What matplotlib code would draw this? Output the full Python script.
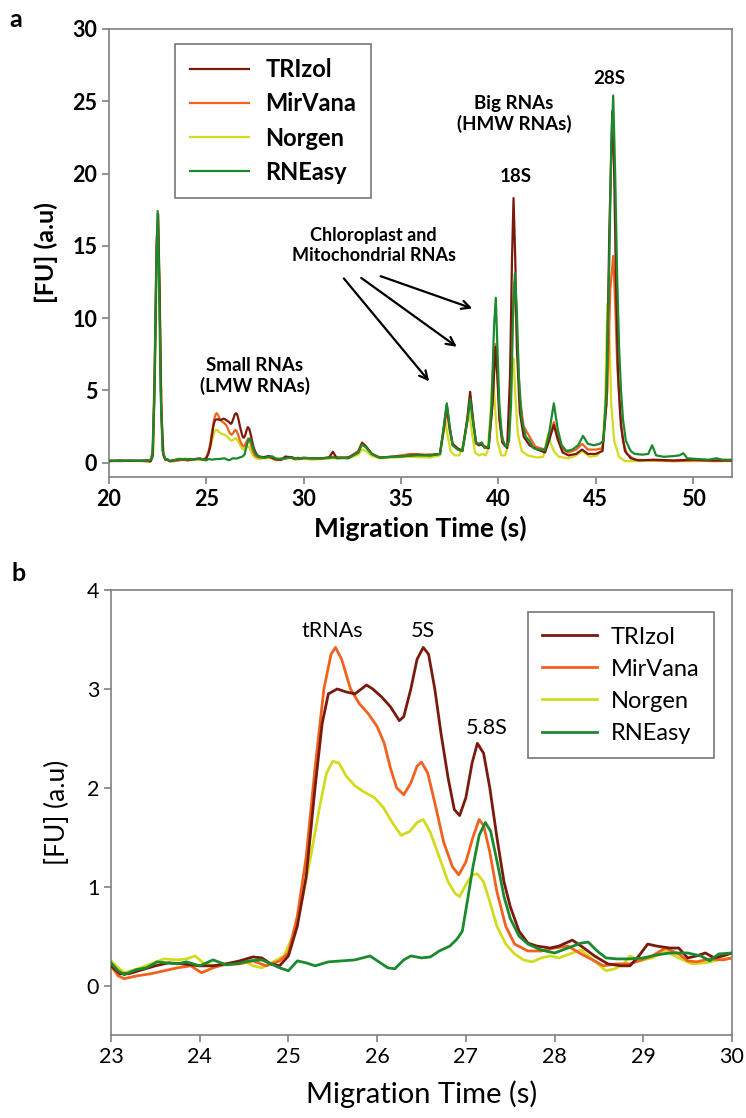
import numpy as np
import matplotlib
matplotlib.use("Agg")
import matplotlib.pyplot as plt

plt.rcParams['font.family'] = ['Lato', 'DejaVu Sans']

names = ["TRIzol", "MirVana", "Norgen", "RNEasy"]
colors = ["#7a1a0c", "#f0621e", "#d2dc1e", "#1b8a2e"]

# ---- panel b: zoom on the small RNA region (23-30 s) ----
b_trizol_t = [23.0, 23.1, 23.2, 23.35, 23.5, 23.65, 23.8, 24.0, 24.15, 24.3, 24.45, 24.6, 24.7, 24.8, 24.9,
              25.0, 25.1, 25.2, 25.3, 25.38, 25.45, 25.55, 25.65, 25.75, 25.88, 25.95, 26.05, 26.15, 26.25,
              26.3, 26.38, 26.45, 26.52, 26.58, 26.65, 26.72, 26.8, 26.87, 26.93, 27.0, 27.07, 27.13, 27.2,
              27.27, 27.35, 27.43, 27.5, 27.6, 27.7, 27.8, 27.95, 28.05, 28.2, 28.3, 28.45, 28.6, 28.75,
              28.85, 28.95, 29.05, 29.15, 29.3, 29.4, 29.5, 29.6, 29.7, 29.8, 29.9, 30.0]
b_trizol_fu = [0.20, 0.12, 0.12, 0.16, 0.20, 0.23, 0.22, 0.20, 0.20, 0.22, 0.25, 0.29, 0.28, 0.22, 0.20,
               0.30, 0.60, 1.10, 2.00, 2.65, 2.95, 3.00, 2.97, 2.95, 3.04, 3.00, 2.92, 2.82, 2.68,
               2.72, 3.00, 3.30, 3.42, 3.35, 3.00, 2.55, 2.10, 1.78, 1.72, 1.90, 2.25, 2.45, 2.35,
               2.00, 1.50, 1.05, 0.80, 0.55, 0.43, 0.40, 0.38, 0.40, 0.46, 0.40, 0.30, 0.22, 0.20,
               0.20, 0.30, 0.42, 0.40, 0.38, 0.38, 0.28, 0.30, 0.33, 0.28, 0.30, 0.33]

b_mirvana_t = [23.0, 23.08, 23.15, 23.3, 23.45, 23.6, 23.75, 23.9, 24.02, 24.15, 24.3, 24.45, 24.6, 24.75,
               24.9, 25.0, 25.1, 25.2, 25.3, 25.4, 25.48, 25.53, 25.6, 25.7, 25.8, 25.9, 26.0, 26.08,
               26.15, 26.22, 26.3, 26.38, 26.45, 26.5, 26.57, 26.65, 26.75, 26.85, 26.92, 27.0, 27.08,
               27.15, 27.2, 27.27, 27.35, 27.45, 27.55, 27.7, 27.85, 28.0, 28.15, 28.3, 28.45, 28.55,
               28.7, 28.85, 28.95, 29.1, 29.25, 29.4, 29.5, 29.6, 29.75, 29.9, 30.0]
b_mirvana_fu = [0.20, 0.10, 0.07, 0.10, 0.12, 0.15, 0.18, 0.20, 0.13, 0.18, 0.22, 0.22, 0.25, 0.20,
                0.25, 0.33, 0.70, 1.30, 2.20, 3.00, 3.35, 3.42, 3.30, 3.00, 2.85, 2.75, 2.62, 2.45,
                2.20, 2.00, 1.93, 2.05, 2.22, 2.26, 2.15, 1.85, 1.45, 1.20, 1.12, 1.25, 1.50,
                1.68, 1.62, 1.35, 0.95, 0.60, 0.42, 0.35, 0.35, 0.38, 0.40, 0.32, 0.25, 0.20,
                0.22, 0.22, 0.25, 0.30, 0.38, 0.32, 0.25, 0.24, 0.27, 0.26, 0.28]

b_norgen_t = [23.0, 23.08, 23.15, 23.3, 23.45, 23.6, 23.75, 23.85, 23.95, 24.05, 24.2, 24.35, 24.5, 24.6,
              24.7, 24.85, 24.95, 25.05, 25.15, 25.25, 25.35, 25.43, 25.5, 25.57, 25.65, 25.75, 25.85,
              25.97, 26.07, 26.17, 26.27, 26.37, 26.45, 26.52, 26.6, 26.7, 26.8, 26.88, 26.93, 27.0,
              27.07, 27.13, 27.2, 27.27, 27.35, 27.45, 27.55, 27.65, 27.75, 27.85, 27.95, 28.05, 28.2,
              28.3, 28.45, 28.58, 28.68, 28.78, 28.85, 28.95, 29.1, 29.25, 29.4, 29.55, 29.7, 29.85, 30.0]
b_norgen_fu = [0.25, 0.18, 0.13, 0.17, 0.22, 0.27, 0.26, 0.27, 0.30, 0.22, 0.20, 0.22, 0.25, 0.20,
               0.18, 0.25, 0.30, 0.50, 0.85, 1.30, 1.80, 2.15, 2.27, 2.25, 2.12, 2.02, 1.96,
               1.90, 1.80, 1.65, 1.52, 1.56, 1.65, 1.68, 1.55, 1.30, 1.05, 0.93, 0.90, 1.02,
               1.12, 1.13, 1.05, 0.85, 0.60, 0.42, 0.32, 0.26, 0.24, 0.28, 0.30, 0.28, 0.33,
               0.36, 0.25, 0.15, 0.17, 0.22, 0.30, 0.25, 0.28, 0.35, 0.28, 0.22, 0.23, 0.26, 0.28]

b_rneasy_t = [23.0, 23.08, 23.15, 23.28, 23.4, 23.52, 23.62, 23.75, 23.85, 24.0, 24.15, 24.3, 24.42, 24.55,
              24.7, 24.8, 24.9, 25.0, 25.1, 25.2, 25.3, 25.45, 25.6, 25.75, 25.92, 26.02, 26.12, 26.2,
              26.3, 26.38, 26.5, 26.6, 26.7, 26.82, 26.9, 26.96, 27.02, 27.08, 27.15, 27.22, 27.28,
              27.36, 27.43, 27.5, 27.6, 27.7, 27.85, 28.0, 28.15, 28.3, 28.38, 28.48, 28.58, 28.7,
              28.85, 29.0, 29.15, 29.3, 29.5, 29.65, 29.75, 29.85, 30.0]
b_rneasy_fu = [0.23, 0.15, 0.11, 0.16, 0.18, 0.24, 0.23, 0.22, 0.24, 0.20, 0.26, 0.21, 0.22, 0.25,
               0.26, 0.22, 0.18, 0.15, 0.25, 0.23, 0.20, 0.24, 0.25, 0.26, 0.30, 0.24, 0.18, 0.17,
               0.26, 0.30, 0.28, 0.29, 0.35, 0.40, 0.47, 0.55, 0.87, 1.20, 1.52, 1.65, 1.56,
               1.22, 0.90, 0.68, 0.50, 0.42, 0.36, 0.33, 0.38, 0.43, 0.44, 0.35, 0.28, 0.27,
               0.27, 0.28, 0.31, 0.33, 0.33, 0.30, 0.25, 0.32, 0.33]

# ---- panel a: full run, before 23 s and after 30 s (23-30 s is the same data as panel b) ----
a_trizol_pre_t = [20.0, 20.5, 21.0, 21.5, 22.0, 22.15, 22.25, 22.35, 22.45, 22.52, 22.6, 22.68, 22.78, 22.9]
a_trizol_pre_fu = [0.10, 0.15, 0.12, 0.13, 0.15, 0.10, 0.5, 6.0, 15.0, 17.2, 12.0, 4.0, 0.6, 0.2]
a_mirvana_pre_t = [20.0, 20.6, 21.2, 21.8, 22.1, 22.25, 22.35, 22.45, 22.52, 22.6, 22.7, 22.8, 22.9]
a_mirvana_pre_fu = [0.12, 0.10, 0.14, 0.10, 0.05, 0.8, 7.0, 15.5, 17.0, 11.0, 3.0, 0.5, 0.2]
a_norgen_pre_t = [20.0, 20.7, 21.3, 21.9, 22.15, 22.27, 22.37, 22.46, 22.52, 22.6, 22.7, 22.8, 22.9]
a_norgen_pre_fu = [0.10, 0.13, 0.10, 0.12, 0.10, 0.7, 6.5, 15.0, 16.8, 11.5, 3.5, 0.5, 0.2]
a_rneasy_pre_t = [20.0, 20.5, 21.0, 21.6, 22.1, 22.22, 22.32, 22.42, 22.5, 22.57, 22.65, 22.75, 22.9]
a_rneasy_pre_fu = [0.15, 0.12, 0.15, 0.13, 0.15, 0.3, 4.0, 13.0, 17.4, 13.0, 5.0, 0.8, 0.25]

a_trizol_post_t = [30.4, 30.9, 31.3, 31.5, 31.7, 32.3, 32.8, 33.0, 33.2, 33.5, 33.9, 34.5, 35.2, 35.8, 36.5,
                   37.0, 37.2, 37.35, 37.5, 37.65, 37.9, 38.15, 38.4, 38.55, 38.7, 38.85, 39.0, 39.1, 39.25,
                   39.5, 39.7, 39.85, 39.95, 40.05, 40.2, 40.45, 40.6, 40.7, 40.78, 40.87, 40.95, 41.1, 41.3,
                   41.6, 42.0, 42.4, 42.6, 42.85, 43.05, 43.3, 43.6, 44.0, 44.3, 44.6, 45.0, 45.35, 45.55,
                   45.7, 45.85, 45.95, 46.05, 46.15, 46.3, 46.5, 46.8, 47.2, 48.0, 49.0, 50.0, 51.0, 52.0]
a_trizol_post_fu = [0.30, 0.30, 0.35, 0.75, 0.30, 0.35, 0.70, 1.35, 1.10, 0.60, 0.35, 0.40, 0.45, 0.55, 0.50,
                    0.60, 2.40, 4.00, 2.40, 1.30, 1.00, 0.80, 3.00, 4.90, 3.00, 1.40, 1.20, 1.30, 1.10,
                    1.00, 4.00, 8.00, 6.00, 3.00, 1.40, 1.00, 6.00, 14.0, 18.3, 14.0, 8.00, 3.50, 1.80,
                    1.20, 0.90, 0.70, 1.50, 2.60, 1.60, 0.70, 0.50, 0.60, 0.90, 0.60, 0.60, 0.80, 4.00,
                    16.0, 24.3, 20.0, 12.0, 6.00, 2.50, 0.80, 0.30, 0.15, 0.20, 0.15, 0.20, 0.15, 0.15]

a_mirvana_post_t = [30.4, 31.0, 31.5, 32.3, 32.8, 33.0, 33.2, 33.5, 33.9, 34.5, 35.0, 35.5, 36.2, 37.0,
                    37.2, 37.35, 37.5, 37.65, 37.9, 38.15, 38.4, 38.55, 38.7, 38.85, 39.0, 39.15, 39.5,
                    39.7, 39.85, 39.95, 40.1, 40.3, 40.5, 40.65, 40.75, 40.83, 40.95, 41.1, 41.3, 41.6,
                    41.9, 42.4, 42.6, 42.85, 43.05, 43.3, 43.6, 44.0, 44.3, 44.6, 45.0, 45.35, 45.6,
                    45.75, 45.9, 46.0, 46.1, 46.25, 46.4, 46.6, 47.0, 48.0, 49.0, 50.0, 51.0, 52.0]
a_mirvana_post_fu = [0.30, 0.30, 0.40, 0.35, 0.80, 1.40, 1.15, 0.60, 0.35, 0.40, 0.50, 0.60, 0.55, 0.60,
                     2.20, 3.70, 2.20, 1.20, 0.95, 0.80, 2.80, 4.60, 2.80, 1.30, 1.20, 1.25, 1.00,
                     4.20, 8.20, 6.00, 2.50, 1.20, 1.20, 5.00, 11.0, 12.5, 9.00, 4.50, 2.50, 1.80,
                     1.10, 0.90, 1.70, 2.80, 1.80, 0.90, 0.70, 0.90, 1.30, 0.90, 0.90, 1.00, 5.00,
                     12.0, 14.3, 11.0, 7.00, 3.50, 1.50, 0.60, 0.20, 0.15, 0.10, 0.15, 0.10, 0.12]

a_norgen_post_t = [30.4, 31.0, 31.5, 32.3, 32.8, 33.0, 33.2, 33.5, 33.9, 34.5, 35.5, 36.5, 37.0, 37.15,
                   37.25, 37.4, 37.55, 37.75, 38.0, 38.25, 38.4, 38.5, 38.65, 38.8, 39.0, 39.2, 39.35,
                   39.45, 39.58, 39.7, 39.8, 39.95, 40.15, 40.35, 40.5, 40.6, 40.7, 40.78, 40.88, 41.0,
                   41.2, 41.5, 42.0, 42.3, 42.45, 42.55, 42.7, 42.85, 43.1, 43.6, 44.0, 44.3, 44.7,
                   45.1, 45.35, 45.48, 45.6, 45.7, 45.8, 45.95, 46.2, 46.5, 47.0, 48.0, 49.0, 50.0,
                   51.0, 52.0]
a_norgen_post_fu = [0.20, 0.25, 0.30, 0.30, 0.55, 0.90, 0.80, 0.45, 0.30, 0.35, 0.40, 0.35, 0.50, 2.00,
                    3.10, 1.80, 0.80, 0.50, 0.50, 1.50, 3.00, 3.60, 2.00, 0.70, 0.50, 0.60, 0.50,
                    0.80, 3.00, 6.30, 4.50, 1.50, 0.50, 0.50, 1.20, 3.50, 6.50, 7.20, 4.50, 2.00,
                    0.80, 0.50, 0.35, 0.40, 1.30, 2.00, 1.30, 0.80, 0.40, 0.30, 0.50, 0.80, 0.40,
                    0.50, 1.00, 4.00, 11.0, 9.00, 4.00, 1.50, 0.40, 0.10, 0.10, 0.12, 0.10, 0.10,
                    0.12, 0.10]

a_rneasy_post_t = [30.4, 31.0, 31.5, 32.3, 32.8, 33.0, 33.2, 33.5, 33.9, 34.5, 35.2, 35.8, 36.5, 37.0,
                   37.2, 37.35, 37.5, 37.65, 37.9, 38.15, 38.4, 38.55, 38.7, 38.85, 39.0, 39.15, 39.3,
                   39.5, 39.65, 39.78, 39.87, 39.95, 40.05, 40.2, 40.4, 40.55, 40.65, 40.75, 40.85,
                   40.95, 41.05, 41.2, 41.4, 41.6, 41.8, 42.1, 42.4, 42.6, 42.85, 43.05, 43.25, 43.5,
                   43.8, 44.1, 44.35, 44.6, 44.9, 45.2, 45.4, 45.55, 45.7, 45.8, 45.9, 46.0, 46.1,
                   46.2, 46.3, 46.4, 46.55, 46.8, 47.0, 47.4, 47.7, 47.9, 48.1, 48.5, 49.0, 49.3,
                   49.5, 49.7, 50.2, 50.8, 51.2, 51.5, 52.0]
a_rneasy_post_fu = [0.30, 0.30, 0.35, 0.30, 0.70, 1.25, 1.05, 0.60, 0.35, 0.40, 0.45, 0.50, 0.50, 0.60,
                    2.50, 4.10, 2.50, 1.20, 0.90, 0.80, 2.80, 4.40, 2.80, 1.40, 1.30, 1.40, 1.00,
                    1.10, 4.00, 9.50, 11.4, 8.00, 4.00, 1.60, 1.10, 1.50, 4.00, 10.0, 13.1,
                    10.5, 6.00, 3.00, 1.80, 1.50, 1.00, 0.90, 0.90, 2.00, 4.10, 2.30, 1.20, 0.80,
                    0.90, 1.20, 1.85, 1.30, 1.20, 1.30, 1.50, 5.00, 14.0, 22.0, 25.4, 20.0, 13.0,
                    8.00, 5.00, 3.00, 1.50, 0.80, 0.60, 0.55, 0.60, 1.20, 0.50, 0.40, 0.45, 0.50,
                    0.65, 0.30, 0.25, 0.20, 0.30, 0.20, 0.20]

b_series = [(b_trizol_t, b_trizol_fu), (b_mirvana_t, b_mirvana_fu),
            (b_norgen_t, b_norgen_fu), (b_rneasy_t, b_rneasy_fu)]
a_pre = [(a_trizol_pre_t, a_trizol_pre_fu), (a_mirvana_pre_t, a_mirvana_pre_fu),
         (a_norgen_pre_t, a_norgen_pre_fu), (a_rneasy_pre_t, a_rneasy_pre_fu)]
a_post = [(a_trizol_post_t, a_trizol_post_fu), (a_mirvana_post_t, a_mirvana_post_fu),
          (a_norgen_post_t, a_norgen_post_fu), (a_rneasy_post_t, a_rneasy_post_fu)]

# draw order: Norgen, MirVana, TRIzol, RNEasy (legend keeps names order)
zorders = [3, 2, 1, 4]

fig = plt.figure(figsize=(7.46, 11.18), dpi=100)
axa = fig.add_axes([0.1461, 0.5733, 0.8351, 0.4008])
axb = fig.add_axes([0.1488, 0.0742, 0.8324, 0.3980])

for i in range(4):
    t = np.concatenate([a_pre[i][0], b_series[i][0], a_post[i][0]])
    fu = np.concatenate([a_pre[i][1], b_series[i][1], a_post[i][1]])
    axa.plot(t, fu, color=colors[i], lw=1.6, label=names[i], zorder=zorders[i])
    axb.plot(b_series[i][0], b_series[i][1], color=colors[i], lw=2.0, label=names[i], zorder=zorders[i])

for ax in (axa, axb):
    for s in ax.spines.values():
        s.set_color("#808080")
        s.set_linewidth(1.2)
    ax.tick_params(direction='out', length=5, width=1.2, color="#808080", labelsize=15.5)

# panel a
axa.set_xlim(20, 52)
axa.set_ylim(-1, 30)
axa.set_xticks(range(20, 51, 5))
axa.set_yticks(range(0, 31, 5))
for lab in axa.get_xticklabels() + axa.get_yticklabels():
    lab.set_fontweight('bold')
axa.set_xlabel("Migration Time (s)", fontsize=19, fontweight='bold', labelpad=4)
axa.set_ylabel("[FU] (a.u)", fontsize=18, fontweight='bold', labelpad=10)
leg = axa.legend(loc='upper left', bbox_to_anchor=(0.106, 0.967), frameon=True,
                 fancybox=False, edgecolor='#555555', handlelength=2.5, labelspacing=0.47,
                 borderpad=0.62, handletextpad=0.7, borderaxespad=0,
                 prop={'weight': 'bold', 'size': 17})
leg.get_frame().set_linewidth(1.2)

axa.text(27.5, 5.96, "Small RNAs\n(LMW RNAs)", ha='center', va='center', fontsize=13.5,
         fontweight='bold', linespacing=1.2)
axa.text(33.6, 15.0, "Chloroplast and\nMitochondrial RNAs", ha='center', va='center', fontsize=13,
         fontweight='bold', linespacing=1.2)
axa.text(40.8, 24.1, "Big RNAs\n(HMW RNAs)", ha='center', va='center', fontsize=13.5,
         fontweight='bold', linespacing=1.2)
axa.text(40.9, 19.8, "18S", ha='center', va='center', fontsize=13.5, fontweight='bold')
axa.text(45.7, 26.6, "28S", ha='center', va='center', fontsize=13.5, fontweight='bold')

arrows = [((31.97, 12.89), (36.54, 5.47)), ((32.84, 12.89), (37.98, 7.90)), ((33.82, 12.96), (38.80, 10.60))]
for start, end in arrows:
    axa.annotate("", xy=end, xytext=start,
                 arrowprops=dict(arrowstyle='->,head_length=0.6,head_width=0.3', lw=1.6, color='black'))

# panel b
axb.set_xlim(23, 30)
axb.set_ylim(-0.5, 4)
axb.set_xticks(range(23, 31))
axb.set_yticks(range(0, 5))
axb.set_xlabel("Migration Time (s)", fontsize=21, labelpad=10)
axb.set_ylabel("[FU] (a.u)", fontsize=19, labelpad=12)
legb = axb.legend(loc='upper left', bbox_to_anchor=(0.671, 0.951), fancybox=False,
                  edgecolor='#555555', handlelength=2.3, labelspacing=0.47, borderpad=0.62,
                  handletextpad=0.6, borderaxespad=0, fontsize=17)
legb.get_frame().set_linewidth(1.2)

axb.text(25.49, 3.59, "tRNAs", ha='center', va='center', fontsize=15.5)
axb.text(26.52, 3.59, "5S", ha='center', va='center', fontsize=15.5)
axb.text(27.23, 2.61, "5.8S", ha='center', va='center', fontsize=15.5)

fig.text(0.013, 0.983, "a", fontsize=18, fontweight='bold', va='center')
fig.text(0.016, 0.487, "b", fontsize=18, fontweight='bold', va='center')

fig.savefig("out.png", dpi=100)
